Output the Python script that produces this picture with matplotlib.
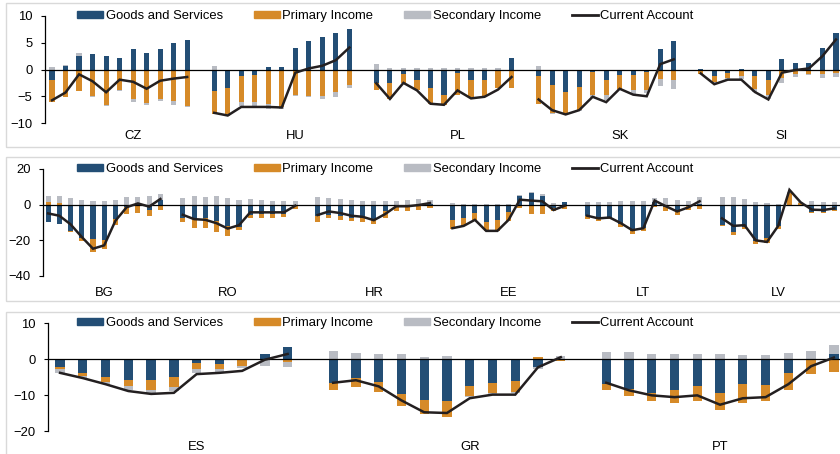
import matplotlib.pyplot as plt
import matplotlib.patches as mpatches
import matplotlib.lines as mlines
import matplotlib.transforms as mtransforms
import numpy as np

plt.rcParams['font.family'] = ['Liberation Sans', 'DejaVu Sans']
plt.rcParams['font.size'] = 9.4

# ---- data (per cent of GDP), 11 observations per country ----
# panel 1
p1_countries = ["CZ", "HU", "PL", "SK", "SI"]
p1_goods = [
    -2.0, 0.7, 2.5, 2.9, 2.5, 2.1, 3.75, 3.0, 3.9, 4.9, 5.6,          # CZ
    -4.0, -3.4, -1.25, -1.1, 0.5, 0.4, 4.1, 5.3, 6.1, 6.9, 7.5,       # HU
    -2.5, -2.5, -0.9, -2.0, -3.4, -4.8, -0.6, -2.0, -2.0, -0.25, 2.1, # PL
    -1.25, -2.9, -4.2, -3.25, -0.4, -1.9, -1.1, -1.1, -0.4, 3.9, 5.4, # SK
    0.1, -1.25, -0.6, 0.1, -1.25, -1.9, 1.9, 1.3, 1.25, 4.0, 6.9,     # SI
]
p1_primary = [
    -4.0, -5.1, -4.0, -4.9, -6.6, -3.8, -5.6, -6.25, -5.5, -5.9, -6.8,
    -4.3, -4.9, -4.85, -5.0, -6.5, -7.0, -4.7, -4.9, -4.9, -4.2, -2.9,
    -1.25, -3.1, -1.6, -1.9, -3.0, -1.9, -4.1, -3.1, -3.1, -3.3, -3.4,
    -5.25, -5.2, -4.05, -4.35, -4.4, -2.9, -2.5, -2.8, -3.5, -1.7, -1.9,
    -0.8, -1.0, -1.0, -1.2, -2.35, -2.9, -1.5, -0.75, -0.75, -0.75, -0.6,
]
p1_secondary = [
    0.4, 0.2, 0.5, -0.2, -0.2, -0.2, -0.4, -0.35, -0.4, -0.7, -0.3,
    0.7, -0.3, -0.8, -0.8, -0.8, -0.4, -0.3, -0.3, -0.7, -0.9, -0.5,
    1.1, 0.2, 0.3, 0.2, 0.2, 0.2, 0.3, 0.2, 0.2, 0.2, -0.1,
    0.6, -0.2, -0.2, -0.2, -0.6, -0.95, -0.3, -0.6, -0.5, -1.4, -1.7,
    -0.1, -0.4, -0.3, -0.5, -0.6, -0.7, -1.0, -0.65, -0.35, -0.75, -0.8,
]
p1_current = [
    -5.75, -4.3, -0.9, -2.2, -4.25, -1.9, -2.3, -3.6, -2.1, -1.7, -1.4,
    -8.1, -8.6, -7.0, -7.0, -7.0, -7.1, -0.6, 0.2, 0.7, 1.75, 4.1,
    -2.6, -5.5, -2.5, -3.9, -6.4, -6.6, -3.9, -5.4, -5.1, -3.75, -1.4,
    -5.6, -7.6, -8.4, -7.6, -5.1, -6.1, -3.6, -4.7, -5.0, 1.0, 1.9,
    -0.75, -2.75, -1.9, -1.9, -4.2, -5.6, -0.6, -0.1, 0.2, 2.5, 5.6,
]

# panel 2
p2_countries = ["BG", "RO", "HR", "EE", "LT", "LV"]
p2_goods = [
    -10.0, -11.1, -15.0, -18.5, -19.0, -19.8, -8.1, -1.5, 0.5, -3.0, 2.5,  # BG
    -7.2, -7.5, -7.5, -9.0, -11.9, -12.3, -5.8, -5.5, -5.5, -5.1, -0.6,    # RO
    -6.2, -5.8, -6.2, -7.2, -7.5, -8.1, -3.8, -0.9, -0.3, -0.2, 0.5,       # HR
    -8.5, -7.7, -4.7, -9.6, -8.5, -4.0, 5.1, 6.4, 5.1, -2.0, 1.3,          # EE
    -6.2, -8.1, -7.2, -10.9, -14.7, -13.2, 1.5, -1.5, -3.4, -0.9, 0.3,     # LT
    -11.5, -15.3, -12.8, -20.4, -18.5, -11.9, -0.6, -1.0, -4.3, -4.0, -3.0, # LV
]
p2_primary = [
    1.7, 0.9, -0.5, -1.9, -7.6, -5.2, -3.4, -4.0, -4.7, -3.2, -3.0,
    -2.4, -5.7, -5.7, -6.1, -5.6, -1.9, -1.9, -1.7, -1.7, -1.7, -1.9,
    -3.4, -1.7, -2.3, -2.2, -2.1, -2.8, -3.4, -2.5, -3.1, -2.8, -1.9,
    -5.3, -4.2, -3.8, -5.1, -6.2, -5.1, -2.1, -5.3, -5.3, -1.8, -2.2,
    -1.9, -1.0, -0.9, -1.6, -1.9, -1.5, -1.5, -2.3, -2.4, -2.1, -2.5,
    -0.4, -1.5, -1.0, -1.9, -2.8, -1.9, 6.4, 1.2, -0.3, -0.7, -0.5,
]
p2_secondary = [
    3.0, 3.8, 3.8, 2.6, 2.2, 2.3, 2.6, 4.2, 4.0, 5.1, 3.5,
    3.8, 4.7, 4.5, 4.7, 3.8, 2.6, 3.2, 2.6, 2.2, 2.2, 1.9,
    4.2, 3.8, 3.2, 2.6, 2.2, 2.2, 2.2, 2.2, 2.6, 3.2, 2.3,
    0.9, 0.3, 0.3, 0.2, 0.2, 0.2, 0.3, 0.6, 0.9, 1.2, 0.3,
    1.7, 1.7, 1.7, 2.3, 2.3, 2.3, 2.1, 3.6, 2.6, 1.9, 3.9,
    4.2, 4.5, 3.2, 1.7, 0.9, 0.5, 0.8, 0.5, 1.9, 1.7, 1.7,
]
p2_current = [
    -4.9, -6.2, -11.0, -18.1, -24.7, -22.8, -9.0, -1.4, 0.7, -1.1, 3.2,
    -5.7, -8.1, -8.5, -10.4, -13.4, -11.5, -4.3, -4.3, -4.3, -4.3, -0.6,
    -5.8, -3.8, -4.7, -6.2, -6.8, -8.7, -5.3, -0.9, -0.9, -0.2, 0.9,
    -13.2, -11.9, -8.5, -14.7, -14.7, -8.5, 2.8, 2.3, 1.9, -3.0, -0.6,
    -6.2, -7.7, -7.2, -10.4, -14.3, -13.2, 2.3, -0.9, -3.8, -1.5, 1.9,
    -7.7, -11.9, -11.5, -20.0, -20.9, -11.9, 8.3, 1.3, -2.8, -3.0, -2.1,
]

# panel 3
p3_countries = ["ES", "GR", "PT"]
p3_goods = [
    -2.2, -4.0, -5.0, -5.9, -5.9, -5.0, -1.2, -1.4, -0.1, 1.4, 3.3,      # ES
    -6.6, -5.4, -6.4, -9.7, -11.4, -11.7, -7.6, -6.7, -6.2, -2.2, -0.3,  # GR
    -6.9, -8.3, -9.4, -8.5, -7.6, -9.5, -7.0, -7.3, -3.85, -0.2, 1.4,    # PT
]
p3_primary = [
    -0.6, -0.7, -1.4, -1.7, -2.6, -2.8, -1.7, -1.4, -1.9, -0.3, -0.9,
    -2.1, -2.4, -2.8, -3.3, -3.9, -4.4, -2.7, -2.7, -3.0, 0.5, -0.3,
    -1.6, -2.0, -2.4, -3.7, -4.1, -4.6, -5.2, -4.4, -4.85, -4.1, -3.6,
]
p3_secondary = [
    -1.0, -0.7, -0.6, -1.1, -0.9, -1.1, -1.1, -0.8, -0.6, -1.6, -1.3,
    2.1, 1.8, 1.4, 1.4, 0.5, 0.9, -0.2, -0.2, -0.2, -0.6, 0.9,
    1.9, 1.9, 1.3, 1.4, 1.3, 1.3, 1.1, 1.1, 1.6, 2.3, 2.5,
]
p3_current = [
    -3.85, -5.3, -7.0, -8.9, -9.7, -9.4, -4.2, -3.85, -3.3, -0.2, 1.4,
    -6.6, -5.9, -7.6, -11.5, -14.8, -15.0, -10.9, -9.9, -9.9, -2.3, 0.5,
    -6.6, -8.7, -10.1, -10.6, -10.1, -12.7, -10.9, -10.6, -7.0, -2.0, 0.4,
]

C_GOODS = "#234e75"
C_PRIM = "#d68a28"
C_SEC = "#b9bcc3"
C_LINE = "#231f20"
N = 11

W, H = 840, 454
fig = plt.figure(figsize=(W / 100, H / 100), dpi=100)

# layout of each panel, in pixels
panels = [
    dict(countries=p1_countries, g=p1_goods, p=p1_primary, s=p1_secondary, ca=p1_current,
         box=(45, 16, 840, 123), xlim=(-0.52, 58.3), ylim=(-10, 10), yticks=[-10, -5, 0, 5, 10],
         width=0.38, lab_off=[6, 6, 6, 6, 6], lab_y=136, frame=(3, 147)),
    dict(countries=p2_countries, g=p2_goods, p=p2_primary, s=p2_secondary, ca=p2_current,
         box=(43, 169, 840, 276), xlim=(-0.45, 70.5), ylim=(-40, 20), yticks=[-40, -20, 0, 20],
         width=0.45, lab_off=[5, 4, 5, 5, 5, 5], lab_y=293, frame=(157, 301)),
    dict(countries=p3_countries, g=p3_goods, p=p3_primary, s=p3_secondary, ca=p3_current,
         box=(48, 323, 840, 431), xlim=(-0.53, 34.27), ylim=(-20, 10), yticks=[-20, -10, 0, 10],
         width=0.41, lab_off=[6, 6, 5], lab_y=447, frame=(312, 460)),
]

for pan in panels:
    # light frame round the panel
    ftop, fbot = pan["frame"]
    fig.add_artist(mpatches.Rectangle((6 / W, 1 - fbot / H), 1.2, (fbot - ftop) / H,
                                      transform=fig.transFigure, fill=False,
                                      edgecolor="#d9d9d9", lw=1.0))
    l, t, r, b = pan["box"]
    ax = fig.add_axes([l / W, 1 - b / H, (r - l) / W, (b - t) / H])
    ax.patch.set_alpha(0)

    ncty = len(pan["countries"])
    x = np.concatenate([k * (N + 1) + np.arange(N) for k in range(ncty)])
    pos = np.zeros(len(x))
    neg = np.zeros(len(x))
    for vals, col in [(pan["g"], C_GOODS), (pan["p"], C_PRIM), (pan["s"], C_SEC)]:
        v = np.array(vals)
        bottom = np.where(v >= 0, pos, neg)
        ax.bar(x, v, bottom=bottom, width=pan["width"], color=col, zorder=2)
        pos = pos + np.where(v >= 0, v, 0)
        neg = neg + np.where(v < 0, v, 0)

    ax.axhline(0, color="black", lw=0.9, zorder=2.5)
    ca = np.array(pan["ca"])
    for k in range(ncty):
        ax.plot(x[k * N:(k + 1) * N], ca[k * N:(k + 1) * N], color=C_LINE, lw=1.8,
                zorder=3, solid_joinstyle="miter")

    trans = mtransforms.blended_transform_factory(ax.transData, fig.transFigure)
    for k, name in enumerate(pan["countries"]):
        ax.text(k * (N + 1) + pan["lab_off"][k], 1 - pan["lab_y"] / H, name,
                transform=trans, ha="center", va="center")

    ax.set_xlim(*pan["xlim"])
    ax.set_ylim(*pan["ylim"])
    ax.set_yticks(pan["yticks"])
    ax.set_xticks([])
    for sp in ["top", "right", "bottom"]:
        ax.spines[sp].set_visible(False)
    ax.spines["left"].set_linewidth(0.9)
    ax.tick_params(axis="y", length=3, width=0.8, pad=6)

    handles = [
        mpatches.Patch(color=C_GOODS, label="Goods and Services"),
        mpatches.Patch(color=C_PRIM, label="Primary Income"),
        mpatches.Patch(color=C_SEC, label="Secondary Income"),
        mlines.Line2D([], [], color=C_LINE, lw=2, label="Current Account"),
    ]
    fig.legend(handles=handles, loc="center left", bbox_to_anchor=(77 / W, 1 - t / H),
               ncol=4, frameon=False, borderpad=0, borderaxespad=0, handlelength=2.0,
               handleheight=0.45, handletextpad=0.2, columnspacing=2.35)

plt.savefig("out.png", dpi=100)
